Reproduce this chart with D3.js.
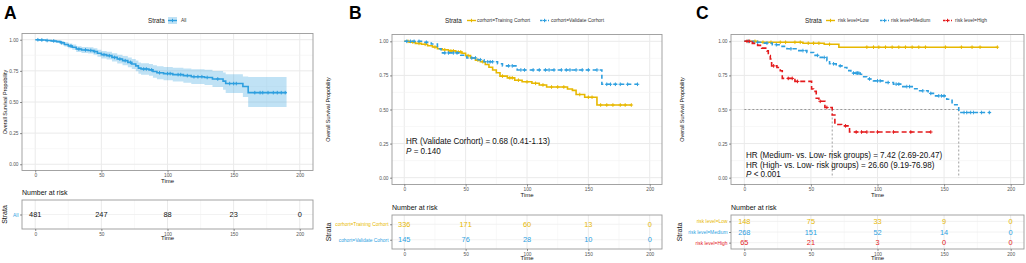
<!DOCTYPE html>
<html><head><meta charset="utf-8">
<script src="https://cdn.jsdelivr.net/npm/d3@7"></script>
<style>
html,body{margin:0;padding:0;background:#fff;}
svg text{font-family:"Liberation Sans",Arial,Helvetica,sans-serif;}
</style></head>
<body><svg id="c" width="1026" height="263"></svg>
<script>
// ---------- data ----------
const xTicks = [0, 50, 100, 150, 200];
const yTicks = [0, 0.25, 0.5, 0.75, 1];
const yTickLabels = ["0.00", "0.25", "0.50", "0.75", "1.00"];
const riskTimes = [0, 50, 100, 150, 200];

// Panel A (All)
const aTime  = [0, 3, 8, 12, 16, 19, 22, 25, 28, 31, 35, 40, 44, 47, 50, 54, 58, 62, 66, 70, 73, 76, 78, 80, 86, 89, 92, 97, 104, 112, 118, 128, 134, 142, 144, 157, 161];
const aSurv  = [1, 0.998, 0.994, 0.99, 0.985, 0.976, 0.962, 0.95, 0.94, 0.925, 0.918, 0.914, 0.905, 0.892, 0.88, 0.872, 0.858, 0.845, 0.832, 0.818, 0.805, 0.79, 0.772, 0.765, 0.758, 0.745, 0.735, 0.728, 0.72, 0.712, 0.703, 0.697, 0.685, 0.668, 0.648, 0.625, 0.575];
const aUpper = [1, 1, 1, 0.999, 0.996, 0.99, 0.979, 0.969, 0.961, 0.948, 0.942, 0.939, 0.931, 0.92, 0.91, 0.903, 0.891, 0.88, 0.869, 0.857, 0.846, 0.833, 0.818, 0.812, 0.806, 0.795, 0.787, 0.781, 0.775, 0.769, 0.762, 0.758, 0.749, 0.736, 0.722, 0.705, 0.70];
const aLower = [1, 0.994, 0.987, 0.981, 0.974, 0.962, 0.945, 0.931, 0.919, 0.902, 0.894, 0.889, 0.879, 0.864, 0.85, 0.841, 0.825, 0.81, 0.795, 0.779, 0.764, 0.747, 0.726, 0.718, 0.71, 0.695, 0.683, 0.675, 0.665, 0.655, 0.644, 0.636, 0.62, 0.598, 0.572, 0.54, 0.46];
const aEnd = 190;
const aCensor = [2, 5, 9, 14, 20, 27, 33, 38, 42, 45, 52, 56, 60, 64, 68, 72, 82, 84, 88, 94, 100, 102, 108, 110, 115, 120, 123, 126, 130, 138, 147, 150, 152, 166, 170, 172, 176, 180, 183, 186, 189];
const aRisk = [481, 247, 88, 23, 0];

// Panel B (cohorts)
const bTrainTime = [0, 4, 9, 14, 19, 23, 27, 31, 36, 42, 47, 50, 54, 58, 62, 66, 69, 72, 75, 78, 84, 90, 96, 104, 110, 116, 133, 137, 140, 147, 157];
const bTrainSurv = [1, 0.994, 0.985, 0.978, 0.968, 0.958, 0.946, 0.938, 0.93, 0.922, 0.912, 0.895, 0.878, 0.862, 0.85, 0.83, 0.81, 0.79, 0.77, 0.745, 0.732, 0.715, 0.703, 0.692, 0.68, 0.665, 0.65, 0.64, 0.61, 0.59, 0.533];
const bTrainEnd = 185;
const bTrainCensor = [3, 7, 12, 17, 25, 33, 38, 40, 44, 46, 52, 60, 64, 80, 86, 88, 93, 100, 107, 113, 120, 125, 130, 143, 150, 153, 160, 165, 170, 176, 180, 185];
const bValTime = [0, 15, 22, 27, 30, 46, 51, 60, 65, 76, 80, 92, 161];
const bValSurv = [1, 0.993, 0.98, 0.945, 0.915, 0.898, 0.878, 0.865, 0.85, 0.835, 0.82, 0.79, 0.685];
const bValEnd = 190;
const bValCensor = [2, 5, 8, 12, 18, 33, 36, 40, 43, 55, 58, 62, 68, 70, 72, 85, 88, 95, 98, 105, 110, 115, 118, 122, 128, 132, 135, 140, 145, 150, 157, 165, 168, 172, 176, 182, 190];
const bRiskTrain = [336, 171, 60, 13, 0];
const bRiskVal = [145, 76, 28, 10, 0];

// Panel C (risk levels)
const cLowTime = [0, 10, 44, 60, 71];
const cLowSurv = [1, 0.993, 0.986, 0.978, 0.957];
const cLowEnd = 190;
const cLowCensor = [3, 8, 14, 20, 27, 31, 38, 42, 48, 52, 56, 64, 92, 97, 101, 106, 111, 116, 121, 126, 131, 136, 151, 163, 171, 177, 190];
const cMedTime = [0, 7, 14, 21, 27, 32, 40, 47, 52, 57, 62, 64, 69, 74, 77, 80, 87, 89, 92, 97, 104, 112, 119, 127, 131, 138, 143, 152, 156, 161];
const cMedSurv = [1, 0.993, 0.987, 0.975, 0.963, 0.945, 0.932, 0.918, 0.897, 0.882, 0.858, 0.835, 0.82, 0.808, 0.785, 0.767, 0.758, 0.74, 0.724, 0.71, 0.698, 0.686, 0.668, 0.652, 0.637, 0.618, 0.6, 0.575, 0.535, 0.478];
const cMedEnd = 185;
const cMedCensor = [3, 10, 17, 24, 35, 44, 55, 60, 67, 72, 82, 84, 85, 86, 94, 100, 102, 108, 114, 116, 122, 124, 134, 140, 146, 148, 150, 165, 167, 170, 172, 178, 184];
const cHighTime = [0, 6, 10, 13, 17, 18, 19.5, 20.5, 24.5, 27, 28.5, 38, 50.5, 52, 54, 56, 60.5, 66, 68, 73, 79];
const cHighSurv = [1, 0.985, 0.97, 0.95, 0.93, 0.895, 0.87, 0.82, 0.808, 0.784, 0.728, 0.706, 0.65, 0.633, 0.583, 0.56, 0.515, 0.46, 0.39, 0.38, 0.335];
const cHighEnd = 140;
const cHighCensor = [2, 4, 22, 33, 36, 40, 57, 62, 76, 84, 88, 92, 100, 112, 125, 140];
const cRiskLow = [148, 75, 33, 9, 0];
const cRiskMed = [268, 151, 52, 14, 0];
const cRiskHigh = [65, 21, 3, 0, 0];
const cMedians = [66, 161];

// ---------- drawing ----------
const YELLOW = "#E7B800", BLUE = "#2E9FDF", RED = "#E41A1C";
const svg = d3.select("#c");

function stepPts(times, surv, end) {
  const p = times.map((t, i) => [t, surv[i]]);
  p.push([end, surv[surv.length - 1]]);
  return p;
}
function survAt(times, surv, t) {
  let s = surv[0];
  for (let i = 0; i < times.length; i++) if (times[i] <= t) s = surv[i];
  return s;
}
function plus(g, x, y, color, sz) {
  g.append("path").attr("d", `M${x - sz},${y}H${x + sz}M${x},${y - sz}V${y + sz}`)
    .attr("stroke", color).attr("stroke-width", 1).attr("fill", "none");
}
function grid(g, x, y, x0, x1, y0, y1, withY) {
  [25, 75, 125, 175].forEach(t => g.append("line").attr("x1", x(t)).attr("x2", x(t)).attr("y1", y0).attr("y2", y1).attr("stroke", "#F4F4F4").attr("stroke-width", 0.6));
  xTicks.forEach(t => g.append("line").attr("x1", x(t)).attr("x2", x(t)).attr("y1", y0).attr("y2", y1).attr("stroke", "#EAEAEA").attr("stroke-width", 1));
  if (withY) {
    [0.125, 0.375, 0.625, 0.875].forEach(v => g.append("line").attr("x1", x0).attr("x2", x1).attr("y1", y(v)).attr("y2", y(v)).attr("stroke", "#F4F4F4").attr("stroke-width", 0.6));
    yTicks.forEach(v => g.append("line").attr("x1", x0).attr("x2", x1).attr("y1", y(v)).attr("y2", y(v)).attr("stroke", "#EAEAEA").attr("stroke-width", 1));
  }
}
function styleAxis(sel) {
  sel.select(".domain").remove();
  sel.selectAll(".tick line").attr("stroke", "#444").attr("stroke-width", 0.6);
  sel.selectAll(".tick text").attr("fill", "#555").style("font-size", "4.8px");
}

function panel(cfg) {
  const g = svg.append("g");
  const x = d3.scaleLinear().domain([-10, 210]).range([cfg.px0, cfg.px1]);
  const y = d3.scaleLinear().domain([-0.05, 1.05]).range([cfg.py1, cfg.py0]);
  // letter
  g.append("text").attr("x", cfg.letterX).attr("y", 19).text(cfg.letter)
    .style("font-size", "17.5px").style("font-weight", "bold").attr("fill", "#000");
  // legend
  const ly = 20.5;
  g.append("text").attr("x", cfg.legendX).attr("y", ly + 2.2).text("Strata").style("font-size", "6.3px").attr("fill", "#222");
  cfg.legend.forEach(l => {
    if (l.fill) g.append("rect").attr("x", l.kx).attr("y", ly - 3.5).attr("width", 9).attr("height", 7).attr("fill", l.color).attr("opacity", 0.3);
    g.append("line").attr("x1", l.kx).attr("x2", l.kx + 9).attr("y1", ly).attr("y2", ly).attr("stroke", l.color).attr("stroke-width", 1.4).attr("stroke-dasharray", l.dash ? "2.5,1.5" : null);
    plus(g, l.kx + 4.5, ly, l.color, 1.7);
    g.append("text").attr("x", l.tx).attr("y", ly + 1.8).text(l.label).style("font-size", "4.9px").attr("fill", "#333");
  });
  // main plot
  g.append("rect").attr("x", cfg.px0).attr("y", cfg.py0).attr("width", cfg.px1 - cfg.px0).attr("height", cfg.py1 - cfg.py0).attr("fill", "#fff");
  grid(g, x, y, cfg.px0, cfg.px1, cfg.py0, cfg.py1, true);
  if (cfg.band) {
    const b = cfg.band;
    const pts = b.time.map((t, i) => [t, b.lower[i], b.upper[i]]);
    pts.push([b.end, b.lower[b.lower.length - 1], b.upper[b.upper.length - 1]]);
    g.append("path").datum(pts)
      .attr("d", d3.area().curve(d3.curveStepAfter).x(d => x(d[0])).y0(d => y(d[1])).y1(d => y(d[2])))
      .attr("fill", b.color).attr("opacity", 0.3);
  }
  if (cfg.medians) {
    const ms = cfg.medians;
    g.append("line").attr("x1", x(0)).attr("x2", x(d3.max(ms))).attr("y1", y(0.5)).attr("y2", y(0.5))
      .attr("stroke", "#777").attr("stroke-width", 0.7).attr("stroke-dasharray", "2,2");
    ms.forEach(m => g.append("line").attr("x1", x(m)).attr("x2", x(m)).attr("y1", y(0.5)).attr("y2", y(0))
      .attr("stroke", "#777").attr("stroke-width", 0.7).attr("stroke-dasharray", "2,2"));
  }
  const line = d3.line().curve(d3.curveStepAfter).x(d => x(d[0])).y(d => y(d[1]));
  cfg.series.forEach(s => {
    g.append("path").datum(stepPts(s.time, s.surv, s.end)).attr("d", line)
      .attr("fill", "none").attr("stroke", s.color).attr("stroke-width", 1.6)
      .attr("stroke-dasharray", s.dash || null);
    s.censor.forEach(t => plus(g, x(t), y(survAt(s.time, s.surv, t)), s.color, 1.8));
  });
  g.append("rect").attr("x", cfg.px0).attr("y", cfg.py0).attr("width", cfg.px1 - cfg.px0).attr("height", cfg.py1 - cfg.py0)
    .attr("fill", "none").attr("stroke", "#9a9a9a").attr("stroke-width", 0.9);
  const ax = g.append("g").attr("transform", `translate(0,${cfg.py1})`)
    .call(d3.axisBottom(x).tickValues(xTicks).tickSize(2).tickPadding(1.5));
  styleAxis(ax);
  const ay = g.append("g").attr("transform", `translate(${cfg.px0},0)`)
    .call(d3.axisLeft(y).tickValues(yTicks).tickFormat((d, i) => yTickLabels[i]).tickSize(2).tickPadding(1.5));
  styleAxis(ay);
  g.append("text").attr("x", x(100)).attr("y", cfg.py1 + 12).attr("text-anchor", "middle").text("Time").style("font-size", "6px").attr("fill", "#111");
  g.append("text").attr("transform", `translate(${cfg.yTitleX},${(cfg.py0 + cfg.py1) / 2}) rotate(-90)`)
    .attr("text-anchor", "middle").text("Overall Survival Propobility").style("font-size", "5.4px").attr("fill", "#111");
  // annotation
  if (cfg.notes) {
    cfg.notes.forEach((n, i) => {
      const t = g.append("text").attr("transform", `translate(${cfg.noteX},${cfg.noteY + i * 9.6}) scale(0.9,1)`)
        .style("font-size", "9px").attr("fill", "#111");
      if (n.italic) {
        t.append("tspan").text(n.italic).style("font-style", "italic");
        t.append("tspan").text(n.text);
      } else t.text(n.text);
    });
  }
  // risk table
  const r0 = cfg.ry0, r1 = cfg.ry1;
  g.append("text").attr("x", cfg.px0).attr("y", r0 - 5).text("Number at risk").style("font-size", "7px").attr("fill", "#111");
  g.append("rect").attr("x", cfg.px0).attr("y", r0).attr("width", cfg.px1 - cfg.px0).attr("height", r1 - r0).attr("fill", "#fff");
  const ry = d3.scalePoint().domain(cfg.rows.map(r => r.label)).range([r0, r1]).padding(0.6);
  grid(g, x, null, cfg.px0, cfg.px1, r0, r1, false);
  cfg.rows.forEach(r => g.append("line").attr("x1", cfg.px0).attr("x2", cfg.px1).attr("y1", ry(r.label)).attr("y2", ry(r.label)).attr("stroke", "#EFEFEF").attr("stroke-width", 0.8));
  cfg.rows.forEach(r => {
    r.values.forEach((v, i) => g.append("text").attr("x", x(riskTimes[i])).attr("y", ry(r.label) + 2.7)
      .attr("text-anchor", "middle").text(v).style("font-size", "7.4px").attr("fill", r.numColor || r.color));
  });
  g.append("rect").attr("x", cfg.px0).attr("y", r0).attr("width", cfg.px1 - cfg.px0).attr("height", r1 - r0)
    .attr("fill", "none").attr("stroke", "#9a9a9a").attr("stroke-width", 0.9);
  const rax = g.append("g").attr("transform", `translate(0,${r1})`)
    .call(d3.axisBottom(x).tickValues(xTicks).tickSize(2).tickPadding(1.5));
  styleAxis(rax);
  const ray = g.append("g").attr("transform", `translate(${cfg.px0},0)`)
    .call(d3.axisLeft(ry).tickSize(2).tickPadding(1.5));
  styleAxis(ray);
  ray.selectAll(".tick text").each(function (d) {
    const r = cfg.rows.find(q => q.label === d);
    d3.select(this).attr("fill", r.color).style("font-size", "4.9px");
  });
  g.append("text").attr("x", x(100)).attr("y", r1 + 11).attr("text-anchor", "middle").text("Time").style("font-size", "6px").attr("fill", "#111");
  g.append("text").attr("transform", `translate(${cfg.strataX},${(r0 + r1) / 2}) rotate(-90)`)
    .attr("text-anchor", "middle").text("Strata").style("font-size", "7px").attr("fill", "#111");
}

panel({
  letter: "A", letterX: 4, px0: 22, px1: 313, py0: 33.5, py1: 170.5, ry0: 200, ry1: 229,
  yTitleX: 7, strataX: 7, legendX: 148,
  legend: [{ kx: 168, tx: 181, label: "All", color: BLUE, fill: true }],
  band: { time: aTime, lower: aLower, upper: aUpper, end: aEnd, color: BLUE },
  series: [{ time: aTime, surv: aSurv, end: aEnd, censor: aCensor, color: BLUE }],
  rows: [{ label: "All", values: aRisk, color: BLUE, numColor: "#111" }]
});

panel({
  letter: "B", letterX: 349, px0: 392, px1: 662, py0: 34.5, py1: 184.5, ry0: 215, ry1: 249,
  yTitleX: 330, strataX: 331, legendX: 445,
  legend: [
    { kx: 467, tx: 477, label: "corhort=Training Corhort", color: YELLOW },
    { kx: 540, tx: 551, label: "corhort=Validate Corhort", color: BLUE, dash: true }
  ],
  series: [
    { time: bTrainTime, surv: bTrainSurv, end: bTrainEnd, censor: bTrainCensor, color: YELLOW },
    { time: bValTime, surv: bValSurv, end: bValEnd, censor: bValCensor, color: BLUE, dash: "4,3" }
  ],
  noteX: 406, noteY: 144,
  notes: [{ text: "HR (Validate Corhort) = 0.68 (0.41-1.13)" }, { italic: "P", text: " = 0.140" }],
  rows: [
    { label: "corhort=Training Corhort", values: bRiskTrain, color: YELLOW },
    { label: "cohort=Validate Cohort", values: bRiskVal, color: BLUE }
  ]
});

panel({
  letter: "C", letterX: 696, px0: 731, px1: 1024, py0: 34.5, py1: 184.5, ry0: 215, ry1: 249,
  yTitleX: 684, strataX: 682, legendX: 805,
  legend: [
    { kx: 826, tx: 838, label: "risk level=Low", color: YELLOW },
    { kx: 880, tx: 891, label: "risk level=Medium", color: BLUE, dash: true },
    { kx: 943, tx: 955, label: "risk level=High", color: RED, dash: true }
  ],
  medians: cMedians,
  series: [
    { time: cLowTime, surv: cLowSurv, end: cLowEnd, censor: cLowCensor, color: YELLOW },
    { time: cMedTime, surv: cMedSurv, end: cMedEnd, censor: cMedCensor, color: BLUE, dash: "4,3" },
    { time: cHighTime, surv: cHighSurv, end: cHighEnd, censor: cHighCensor, color: RED, dash: "5,3" }
  ],
  noteX: 746, noteY: 158,
  notes: [
    { text: "HR (Medium- vs. Low- risk groups) = 7.42 (2.69-20.47)" },
    { text: "HR (High- vs. Low- risk groups) = 26.60 (9.19-76.98)" },
    { italic: "P", text: " < 0.001" }
  ],
  rows: [
    { label: "risk level=Low", values: cRiskLow, color: YELLOW },
    { label: "risk level=Medium", values: cRiskMed, color: BLUE },
    { label: "risk level=High", values: cRiskHigh, color: RED }
  ]
});
</script></body></html>
